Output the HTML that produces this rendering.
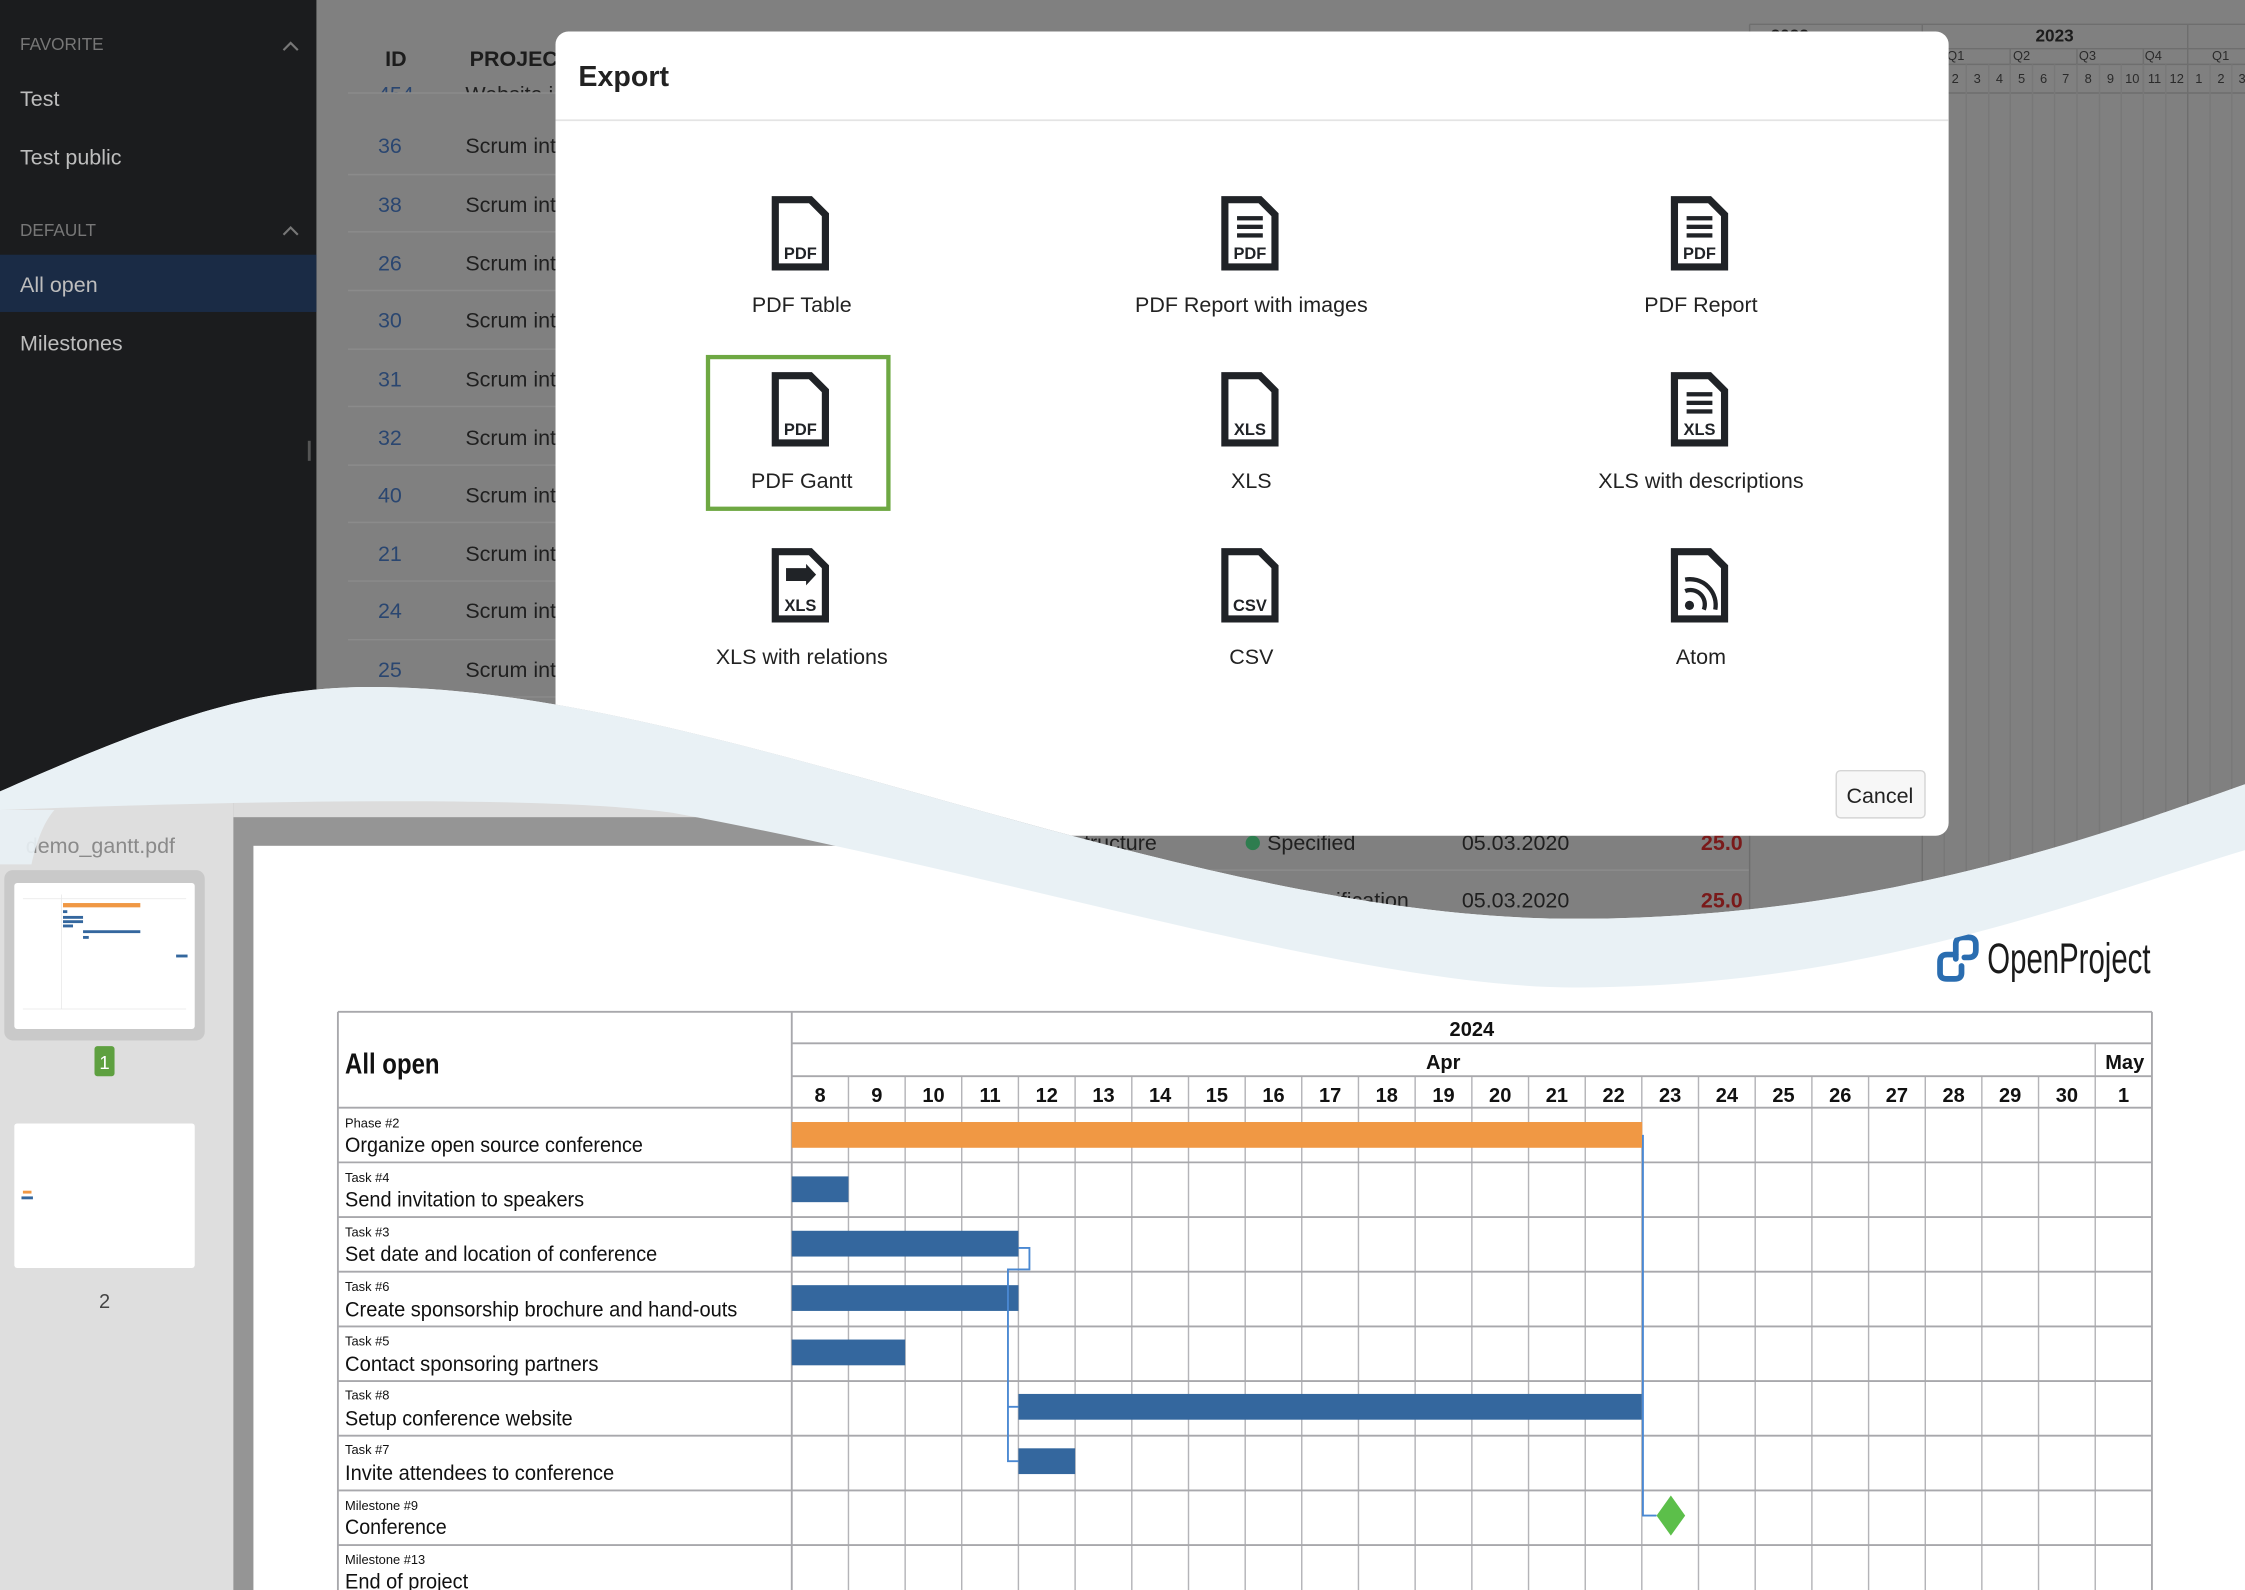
<!DOCTYPE html>
<html><head><meta charset="utf-8"><style>
html,body{margin:0;padding:0;width:2245px;height:1590px;overflow:hidden;background:#fff}
svg{display:block}
text{font-family:"Liberation Sans",sans-serif}
</style></head><body>
<svg width="2245" height="1590" viewBox="0 0 1568 1111" preserveAspectRatio="none" xmlns="http://www.w3.org/2000/svg">
<defs>
<clipPath id="top"><path d="M0 0 H1568 V548 C1450 590 1300 642 1100 642 C820 642 500 480 260 480 C180 480 120 500 0 553 Z"/></clipPath>
<clipPath id="hdr"><rect x="240" y="0" width="150" height="65"/></clipPath>
<g id="file"><path d="M2.5 2.5 H27 L37.5 13 V49.5 H2.5 Z" fill="#fff" stroke="#202327" stroke-width="5" stroke-linejoin="miter"/></g>
<g id="lines"><rect x="11" y="14" width="18" height="3" fill="#202327"/><rect x="11" y="20" width="18" height="3" fill="#202327"/><rect x="11" y="26" width="18" height="3" fill="#202327"/></g>
</defs>

<!-- PDF viewer (bottom) -->
<rect x="0" y="540" width="1568" height="571" fill="#959595"/>
<rect x="163" y="540" width="1405" height="31" fill="#dcdcdc"/>
<rect x="0" y="540" width="163" height="571" fill="#dedede"/>
<text x="18" y="596" font-size="15" fill="#8a8a8a">demo_gantt.pdf</text>
<rect x="3" y="608" width="140" height="119" rx="6" fill="#c9c9c9"/>
<rect x="10" y="617" width="126" height="102" rx="2" fill="#fff"/>
<rect x="44" y="631" width="54" height="3" fill="#f09844"/>
<rect x="44" y="636" width="3" height="2" fill="#34679e"/>
<rect x="44" y="640" width="14" height="2" fill="#34679e"/>
<rect x="44" y="643" width="14" height="2" fill="#34679e"/>
<rect x="44" y="646" width="7" height="2" fill="#34679e"/>
<rect x="58" y="650" width="40" height="2" fill="#34679e"/>
<rect x="58" y="654" width="4" height="2" fill="#34679e"/>
<rect x="123" y="667" width="8" height="2" fill="#34679e"/>
<g stroke="#e6e6e6" stroke-width="0.5"><line x1="16" y1="628" x2="130" y2="628"/><line x1="16" y1="705" x2="130" y2="705"/><line x1="43" y1="625" x2="43" y2="705"/></g>
<rect x="66" y="731" width="14" height="21" rx="2" fill="#5ea040"/>
<text x="73" y="747" font-size="13" fill="#fff" text-anchor="middle">1</text>
<rect x="10" y="785" width="126" height="101" rx="2" fill="#fff"/>
<rect x="16" y="832" width="6" height="2" fill="#f09844"/><rect x="15" y="836" width="8" height="2" fill="#34679e"/>
<text x="73" y="914" font-size="14" fill="#444" text-anchor="middle">2</text>
<rect x="177" y="591" width="1391" height="520" fill="#fff"/>

<!-- OpenProject logo -->
<g fill="none" stroke="#2a6db0" stroke-width="4" stroke-linecap="round">
<path d="M1366 667 H1360 Q1355 667 1355 672 V680 Q1355 684 1360 684 H1365 Q1370 684 1370 680 V675"/>
<path d="M1366 670 V660 Q1366 655 1371 655 H1375 Q1380 655 1380 660 V664 Q1380 669 1375 669 H1372"/>
</g>
<text x="1388" y="680" font-size="30" fill="#1a1a1a" textLength="114" lengthAdjust="spacingAndGlyphs">OpenProject</text>

<!-- Gantt grid -->
<g stroke="#b4b4b8" stroke-width="1">
<line x1="592.6" y1="752" x2="592.6" y2="1111"/><line x1="632.2" y1="752" x2="632.2" y2="1111"/><line x1="671.7" y1="752" x2="671.7" y2="1111"/><line x1="711.3" y1="752" x2="711.3" y2="1111"/><line x1="750.9" y1="752" x2="750.9" y2="1111"/><line x1="790.5" y1="752" x2="790.5" y2="1111"/><line x1="830.1" y1="752" x2="830.1" y2="1111"/><line x1="869.7" y1="752" x2="869.7" y2="1111"/><line x1="909.2" y1="752" x2="909.2" y2="1111"/><line x1="948.8" y1="752" x2="948.8" y2="1111"/><line x1="988.4" y1="752" x2="988.4" y2="1111"/><line x1="1028" y1="752" x2="1028" y2="1111"/><line x1="1067.6" y1="752" x2="1067.6" y2="1111"/><line x1="1107.2" y1="752" x2="1107.2" y2="1111"/><line x1="1146.7" y1="752" x2="1146.7" y2="1111"/><line x1="1186.3" y1="752" x2="1186.3" y2="1111"/><line x1="1225.9" y1="752" x2="1225.9" y2="1111"/><line x1="1265.5" y1="752" x2="1265.5" y2="1111"/><line x1="1305.1" y1="752" x2="1305.1" y2="1111"/><line x1="1344.7" y1="752" x2="1344.7" y2="1111"/><line x1="1384.2" y1="752" x2="1384.2" y2="1111"/><line x1="1423.8" y1="752" x2="1423.8" y2="1111"/><line x1="1463.4" y1="729" x2="1463.4" y2="1111"/>
</g>
<g stroke="#a8a8ac" stroke-width="1.3">
<line x1="236" y1="707" x2="1503" y2="707"/>
<line x1="553" y1="729" x2="1503" y2="729"/>
<line x1="553" y1="752" x2="1503" y2="752"/>
<line x1="236" y1="774" x2="1503" y2="774"/>
<line x1="236" y1="812.2" x2="1503" y2="812.2"/><line x1="236" y1="850.4" x2="1503" y2="850.4"/><line x1="236" y1="888.6" x2="1503" y2="888.6"/><line x1="236" y1="926.8" x2="1503" y2="926.8"/><line x1="236" y1="965" x2="1503" y2="965"/><line x1="236" y1="1003.2" x2="1503" y2="1003.2"/><line x1="236" y1="1041.4" x2="1503" y2="1041.4"/><line x1="236" y1="1079.6" x2="1503" y2="1079.6"/>
<line x1="236" y1="707" x2="236" y2="1111"/><line x1="553" y1="707" x2="553" y2="1111"/><line x1="1503" y1="707" x2="1503" y2="1111"/>
</g>
<g font-weight="bold" font-size="14" fill="#111" text-anchor="middle">
<text x="1028" y="724">2024</text><text x="1008" y="747">Apr</text><text x="1484" y="747">May</text>
<text x="572.8" y="770">8</text><text x="612.4" y="770">9</text><text x="652" y="770">10</text><text x="691.5" y="770">11</text><text x="731.1" y="770">12</text><text x="770.7" y="770">13</text><text x="810.3" y="770">14</text><text x="849.9" y="770">15</text><text x="889.5" y="770">16</text><text x="929" y="770">17</text><text x="968.6" y="770">18</text><text x="1008.2" y="770">19</text><text x="1047.8" y="770">20</text><text x="1087.4" y="770">21</text><text x="1127" y="770">22</text><text x="1166.5" y="770">23</text><text x="1206.1" y="770">24</text><text x="1245.7" y="770">25</text><text x="1285.3" y="770">26</text><text x="1324.9" y="770">27</text><text x="1364.5" y="770">28</text><text x="1404" y="770">29</text><text x="1443.6" y="770">30</text><text x="1483.2" y="770">1</text>
</g>
<text x="241" y="750" font-size="20" font-weight="bold" fill="#111" textLength="66" lengthAdjust="spacingAndGlyphs">All open</text>
<g font-size="9" fill="#111">
<text x="241" y="788">Phase #2</text><text x="241" y="826">Task #4</text><text x="241" y="864">Task #3</text><text x="241" y="902">Task #6</text><text x="241" y="940">Task #5</text><text x="241" y="978">Task #8</text><text x="241" y="1016">Task #7</text><text x="241" y="1055">Milestone #9</text><text x="241" y="1093">Milestone #13</text>
</g>
<g font-size="15" fill="#111">
<text x="241" y="805" textLength="208" lengthAdjust="spacingAndGlyphs">Organize open source conference</text>
<text x="241" y="843" textLength="167" lengthAdjust="spacingAndGlyphs">Send invitation to speakers</text>
<text x="241" y="881" textLength="218" lengthAdjust="spacingAndGlyphs">Set date and location of conference</text>
<text x="241" y="920" textLength="274" lengthAdjust="spacingAndGlyphs">Create sponsorship brochure and hand-outs</text>
<text x="241" y="958" textLength="177" lengthAdjust="spacingAndGlyphs">Contact sponsoring partners</text>
<text x="241" y="996" textLength="159" lengthAdjust="spacingAndGlyphs">Setup conference website</text>
<text x="241" y="1034" textLength="188" lengthAdjust="spacingAndGlyphs">Invite attendees to conference</text>
<text x="241" y="1072" textLength="71" lengthAdjust="spacingAndGlyphs">Conference</text>
<text x="241" y="1110" textLength="86" lengthAdjust="spacingAndGlyphs">End of project</text>
</g>
<rect x="553" y="784" width="594" height="18" fill="#f09844"/>
<g fill="#34679e">
<rect x="553" y="822" width="39.6" height="18"/>
<rect x="553" y="860" width="158.3" height="18"/>
<rect x="553" y="898" width="158.3" height="18"/>
<rect x="553" y="936" width="79.2" height="18"/>
<rect x="711.3" y="974" width="435.4" height="18"/>
<rect x="711.3" y="1012" width="39.6" height="18"/>
</g>
<g fill="none" stroke="#4a88d2" stroke-width="1.3">
<path d="M711.3 872 H719 V887 H704 V1021 H711.3"/>
<path d="M704 983 H711.3"/>
<path d="M1147.5 793 V1059 H1157"/>
</g>
<path d="M1167 1045 L1177 1059 L1167 1073 L1157 1059 Z" fill="#5cbf4a"/>

<!-- Top application UI (clipped) -->
<g clip-path="url(#top)">
<rect x="0" y="0" width="1568" height="700" fill="#808080"/>
<rect x="0" y="0" width="221" height="700" fill="#1b1c1e"/>
<rect x="0" y="178" width="221" height="40" fill="#1a2b45"/>
<g font-size="12" fill="#777"><text x="14" y="35">FAVORITE</text><text x="14" y="165">DEFAULT</text></g>
<g fill="none" stroke="#777" stroke-width="1.5"><path d="M198 35 L203 30 L208 35"/><path d="M198 164 L203 159 L208 164"/></g>
<g font-size="15" fill="#bdbdbd"><text x="14" y="74">Test</text><text x="14" y="115">Test public</text><text x="14" y="204">All open</text><text x="14" y="245">Milestones</text></g>
<rect x="215" y="308" width="2" height="14" fill="#555"/>
<g font-size="15" font-weight="bold" fill="#1c1c1c"><text x="269" y="46">ID</text><text x="328" y="46">PROJECT</text></g>
<g clip-path="url(#hdr)" font-size="15"><text x="264" y="71" fill="#2a4670">454</text><text x="325" y="71" fill="#1f1f1f">Website i</text></g>
<g stroke="#8b8b8b" stroke-width="1">
<line x1="243" y1="65" x2="388" y2="65"/><line x1="243" y1="122" x2="388" y2="122"/><line x1="243" y1="162" x2="388" y2="162"/><line x1="243" y1="203" x2="388" y2="203"/><line x1="243" y1="244" x2="388" y2="244"/><line x1="243" y1="284" x2="388" y2="284"/><line x1="243" y1="325" x2="388" y2="325"/><line x1="243" y1="365" x2="388" y2="365"/><line x1="243" y1="406" x2="388" y2="406"/><line x1="243" y1="447" x2="388" y2="447"/><line x1="243" y1="487" x2="388" y2="487"/>
<line x1="500" y1="608" x2="1222" y2="608"/><line x1="500" y1="648" x2="1222" y2="648"/>
</g>
<g font-size="15" fill="#2a4670"><text x="264" y="107">36</text><text x="264" y="148">38</text><text x="264" y="189">26</text><text x="264" y="229">30</text><text x="264" y="270">31</text><text x="264" y="311">32</text><text x="264" y="351">40</text><text x="264" y="392">21</text><text x="264" y="432">24</text><text x="264" y="473">25</text></g>
<g font-size="15" fill="#1f1f1f"><text x="325" y="107">Scrum int</text><text x="325" y="148">Scrum int</text><text x="325" y="189">Scrum int</text><text x="325" y="229">Scrum int</text><text x="325" y="270">Scrum int</text><text x="325" y="311">Scrum int</text><text x="325" y="351">Scrum int</text><text x="325" y="392">Scrum int</text><text x="325" y="432">Scrum int</text><text x="325" y="473">Scrum int</text></g>
<g font-size="15" fill="#1f1f1f">
<text x="808" y="594" text-anchor="end">Define information structure</text>
<text x="984" y="634" text-anchor="end">Create specification</text>
<text x="885" y="594">Specified</text>
<text x="1021" y="594">05.03.2020</text><text x="1021" y="634">05.03.2020</text>
</g>
<circle cx="875" cy="589" r="5" fill="#2e7d4f"/>
<g font-size="15" font-weight="bold" fill="#7a1a1a"><text x="1188" y="594">25.0</text><text x="1188" y="634">25.0</text></g>
<rect x="1222" y="570" width="346" height="130" fill="#808080"/>
<g stroke="#6e6e6e" stroke-width="1">
<line x1="1222" y1="17" x2="1568" y2="17"/><line x1="1222" y1="34" x2="1568" y2="34"/><line x1="1222" y1="45" x2="1568" y2="45"/><line x1="1222" y1="65" x2="1568" y2="65"/>
<line x1="1222" y1="17" x2="1222" y2="700"/><line x1="1342.6" y1="17" x2="1342.6" y2="700"/><line x1="1528" y1="17" x2="1528" y2="700"/>
<line x1="1404" y1="34" x2="1404" y2="65"/><line x1="1450.6" y1="34" x2="1450.6" y2="65"/><line x1="1497" y1="34" x2="1497" y2="65"/>
</g>
<g stroke="#787878" stroke-width="1">
<line x1="1358" y1="45" x2="1358" y2="700"/><line x1="1373.3" y1="45" x2="1373.3" y2="700"/><line x1="1389" y1="45" x2="1389" y2="700"/><line x1="1404" y1="45" x2="1404" y2="700"/><line x1="1419.6" y1="45" x2="1419.6" y2="700"/><line x1="1435" y1="45" x2="1435" y2="700"/><line x1="1450.6" y1="45" x2="1450.6" y2="700"/><line x1="1466.4" y1="45" x2="1466.4" y2="700"/><line x1="1481.6" y1="45" x2="1481.6" y2="700"/><line x1="1497" y1="45" x2="1497" y2="700"/><line x1="1512.7" y1="45" x2="1512.7" y2="700"/><line x1="1543.6" y1="45" x2="1543.6" y2="700"/><line x1="1558.8" y1="45" x2="1558.8" y2="700"/>
</g>
<text x="1435" y="29" font-size="12" font-weight="bold" fill="#1c1c1c" text-anchor="middle">2023</text>
<text x="1250" y="29" font-size="12" font-weight="bold" fill="#1c1c1c" text-anchor="middle">2022</text>
<g font-size="9" fill="#2a2a2a" text-anchor="middle">
<text x="1366" y="42">Q1</text><text x="1412" y="42">Q2</text><text x="1458" y="42">Q3</text><text x="1504" y="42">Q4</text><text x="1551" y="42">Q1</text>
<text x="1365.6" y="58">2</text><text x="1381" y="58">3</text><text x="1396.5" y="58">4</text><text x="1412" y="58">5</text><text x="1427.3" y="58">6</text><text x="1442.8" y="58">7</text><text x="1458.5" y="58">8</text><text x="1474" y="58">9</text><text x="1489.3" y="58">10</text><text x="1504.8" y="58">11</text><text x="1520.3" y="58">12</text><text x="1535.8" y="58">1</text><text x="1551.2" y="58">2</text><text x="1566" y="58">3</text>
</g>
<rect x="388" y="22" width="973" height="562" rx="9" fill="#fff"/>
<line x1="388" y1="84" x2="1361" y2="84" stroke="#e4e4e4" stroke-width="1.2"/>
<text x="404" y="60" font-size="20" font-weight="bold" fill="#222">Export</text>
<rect x="494.5" y="249.5" width="126" height="106" fill="none" stroke="#6ea843" stroke-width="3"/>
<g font-size="11.5" font-weight="bold" fill="#202327" text-anchor="middle">
<g transform="translate(539,137)"><use href="#file"/><text x="20" y="44">PDF</text></g>
<g transform="translate(853,137)"><use href="#file"/><use href="#lines"/><text x="20" y="44">PDF</text></g>
<g transform="translate(1167,137)"><use href="#file"/><use href="#lines"/><text x="20" y="44">PDF</text></g>
<g transform="translate(539,260)"><use href="#file"/><text x="20" y="44">PDF</text></g>
<g transform="translate(853,260)"><use href="#file"/><text x="20" y="44">XLS</text></g>
<g transform="translate(1167,260)"><use href="#file"/><use href="#lines"/><text x="20" y="44">XLS</text></g>
<g transform="translate(539,383)"><use href="#file"/><path d="M10 14 H24 V11 L31 18.5 L24 26 V23 H10 Z" fill="#202327"/><text x="20" y="44">XLS</text></g>
<g transform="translate(853,383)"><use href="#file"/><text x="20" y="44">CSV</text></g>
<g transform="translate(1167,383)"><use href="#file"/><circle cx="13" cy="40" r="3.2" fill="#202327"/><path d="M10 30 A10 10 0 0 1 23 43" fill="none" stroke="#202327" stroke-width="3"/><path d="M10 22 A18 18 0 0 1 31 43" fill="none" stroke="#202327" stroke-width="3"/></g>
</g>
<g font-size="15" fill="#222" text-anchor="middle">
<text x="560" y="218">PDF Table</text><text x="874" y="218">PDF Report with images</text><text x="1188" y="218">PDF Report</text>
<text x="560" y="341">PDF Gantt</text><text x="874" y="341">XLS</text><text x="1188" y="341">XLS with descriptions</text>
<text x="560" y="464">XLS with relations</text><text x="874" y="464">CSV</text><text x="1188" y="464">Atom</text>
</g>
<rect x="1282.5" y="538.5" width="62" height="33" rx="3" fill="#f7f7f7" stroke="#d5d5d5"/>
<text x="1313" y="561" font-size="15" fill="#222" text-anchor="middle">Cancel</text>
</g>

<path d="M0 553 C120 500 180 480 260 480 C500 480 820 642 1100 642 C1300 642 1450 590 1568 548 L1568 594 C1450 630 1300 690 1100 690 C950 690 700 610 470 568 C380 555 150 560 0 566 Z" fill="#e9f1f5"/>
<path d="M0 566 C40 565 60 565 90 565 L90 600 L0 600 Z" fill="#e9f1f5" opacity="0"/>
<rect x="0" y="566" width="40" height="40" fill="#dedede" opacity="0"/>
<path d="M0 566 L38 566 C30 575 25 590 22 604 L0 604 Z" fill="#e9f1f5" opacity="0.9"/>
</svg>
</body></html>
